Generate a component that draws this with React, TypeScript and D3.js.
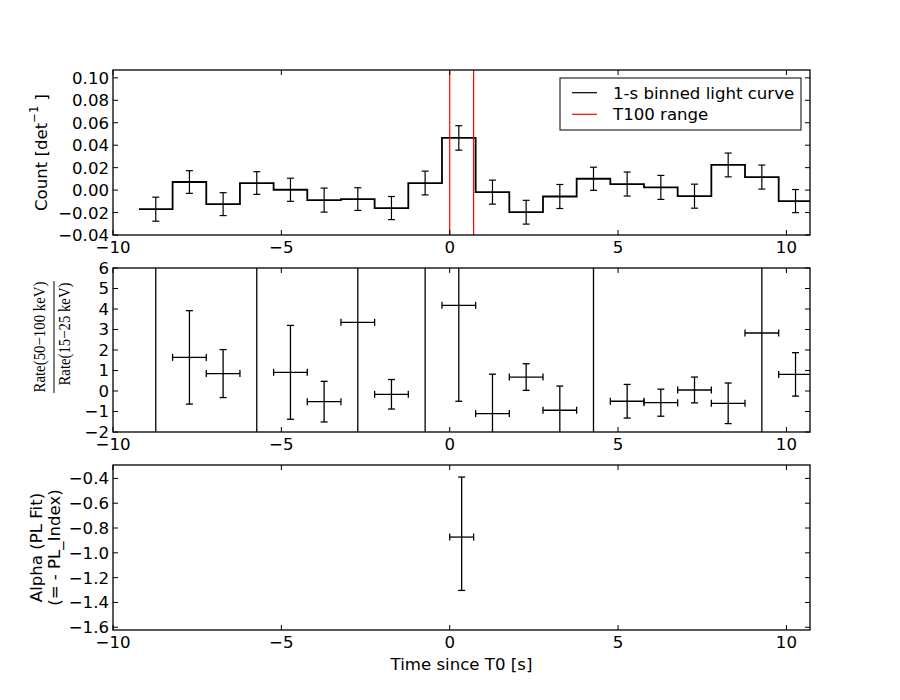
import React from "react";
import * as d3 from "d3";

// ---------- data ----------
const binCenters = [-8.73, -7.73, -6.73, -5.73, -4.73, -3.73, -2.73, -1.73, -0.73, 0.27, 1.27, 2.27, 3.27, 4.27, 5.27, 6.27, 7.27, 8.27, 9.27, 10.27];
const binHalfWidth = 0.5;
const countValues = [-0.017, 0.0072, -0.0125, 0.0063, 0.0003, -0.0089, -0.008, -0.016, 0.0063, 0.0465, -0.0018, -0.0197, -0.0057, 0.0101, 0.0054, 0.0024, -0.0054, 0.0224, 0.0116, -0.0098];
const countErrors = [0.0107, 0.0101, 0.0102, 0.0101, 0.0103, 0.0107, 0.0101, 0.0103, 0.0106, 0.0109, 0.0107, 0.0106, 0.0107, 0.0103, 0.0107, 0.0107, 0.0107, 0.0106, 0.0107, 0.0103];
const ratioValues = [-9, 1.64, 0.85, -9, 0.91, -0.52, 3.35, -0.16, -9, 4.18, -1.1, 0.68, -0.94, -9, -0.5, -0.57, 0.05, -0.6, 2.83, 0.81];
const ratioErrors = [18, 2.28, 1.17, 18, 2.29, 0.99, 7, 0.72, 18, 4.68, 1.92, 0.65, 1.18, 18, 0.82, 0.66, 0.63, 0.99, 6, 1.06];
const t100Range = [0.0, 0.71];
const alphaTime = [0.355];
const alphaValue = [-0.873];
const alphaErrUp = [0.484];
const alphaErrDown = [0.43];
const xTicks = [-10, -5, 0, 5, 10];
const countTicks = [-0.04, -0.02, 0.0, 0.02, 0.04, 0.06, 0.08, 0.1];
const ratioTicks = [-2, -1, 0, 1, 2, 3, 4, 5, 6];
const alphaTicks = [-1.6, -1.4, -1.2, -1.0, -0.8, -0.6, -0.4];
const legendLabels = ["1-s binned light curve", "T100 range"];

// ---------- layout ----------
const W = 900, H = 700;
const L = 113, R = 810;
const panels = [
  { top: 70, bottom: 235 },
  { top: 268, bottom: 432 },
  { top: 465, bottom: 630 },
];
const FONT = "DejaVu Sans, sans-serif";
const FS = 16.6;
const TICK = 5;
const CAP = 3.5;

const x = d3.scaleLinear().domain([-10, 10.7]).range([L, R]);
const yCount = d3.scaleLinear().domain([-0.04, 0.107]).range([panels[0].bottom, panels[0].top]);
const yRatio = d3.scaleLinear().domain([-2, 6]).range([panels[1].bottom, panels[1].top]);
const yAlpha = d3.scaleLinear().domain([-1.622, -0.292]).range([panels[2].bottom, panels[2].top]);

const fmtMinus = (s: string) => s.replace("-", "\u2212");

function Axes({ idx, y, yTicks, fmt, children }: any) {
  const { top, bottom } = panels[idx];
  return (
    <g>
      <defs>
        <clipPath id={`clip${idx}`}>
          <rect x={L} y={top} width={R - L} height={bottom - top} />
        </clipPath>
      </defs>
      <g clipPath={`url(#clip${idx})`}>{children}</g>
      {xTicks.map((t) => (
        <g key={"xt" + t}>
          <line x1={x(t)} x2={x(t)} y1={bottom} y2={bottom - TICK} stroke="black" />
          <line x1={x(t)} x2={x(t)} y1={top} y2={top + TICK} stroke="black" />
          <text x={x(t)} y={bottom + 18} textAnchor="middle" fontFamily={FONT} fontSize={FS}>
            {fmtMinus(String(t))}
          </text>
        </g>
      ))}
      {yTicks.map((t: number) => (
        <g key={"yt" + t}>
          <line x1={L} x2={L + TICK} y1={y(t)} y2={y(t)} stroke="black" />
          <line x1={R} x2={R - TICK} y1={y(t)} y2={y(t)} stroke="black" />
          <text x={L - 4} y={y(t)} dy="0.36em" textAnchor="end" fontFamily={FONT} fontSize={FS}>
            {fmtMinus(fmt(t))}
          </text>
        </g>
      ))}
      <rect x={L} y={top} width={R - L} height={bottom - top} fill="none" stroke="black" strokeWidth={1.3} />
    </g>
  );
}

export default function App() {
  // step line path
  const stepPts: [number, number][] = [];
  binCenters.forEach((c, i) => {
    stepPts.push([c - binHalfWidth, countValues[i]]);
    stepPts.push([c + binHalfWidth, countValues[i]]);
  });
  const stepLine = d3
    .line<[number, number]>()
    .x((d) => x(d[0]))
    .y((d) => yCount(d[1]))(stepPts);

  return (
    <svg width={W} height={H} style={{ display: "block", position: "absolute", left: 0, top: 0 }}>
      <rect width={W} height={H} fill="white" />

      {/* Panel 1 */}
      <Axes idx={0} y={yCount} yTicks={countTicks} fmt={(t: number) => t.toFixed(2)}>
        <path d={stepLine || ""} fill="none" stroke="black" strokeWidth={1.8} />
        {binCenters.map((c, i) => {
          const y1 = yCount(countValues[i] + countErrors[i]);
          const y2 = yCount(countValues[i] - countErrors[i]);
          return (
            <g key={i} stroke="black" strokeWidth={1.2}>
              <line x1={x(c)} x2={x(c)} y1={y1} y2={y2} />
              <line x1={x(c) - CAP} x2={x(c) + CAP} y1={y1} y2={y1} />
              <line x1={x(c) - CAP} x2={x(c) + CAP} y1={y2} y2={y2} />
            </g>
          );
        })}
        {t100Range.map((t, i) => (
          <line key={"r" + i} x1={x(t)} x2={x(t)} y1={panels[0].top} y2={panels[0].bottom} stroke="red" strokeWidth={1.2} />
        ))}
      </Axes>
      {/* legend */}
      <g>
        <rect x={560} y={78} width={241} height={52} fill="white" stroke="black" strokeWidth={1} />
        <line x1={572} x2={597} y1={92.7} y2={92.7} stroke="black" strokeWidth={1.2} />
        <line x1={572} x2={597} y1={114.3} y2={114.3} stroke="red" strokeWidth={1.2} />
        <text x={613} y={92.7} dy="0.36em" fontFamily={FONT} fontSize={FS}>{legendLabels[0]}</text>
        <text x={613} y={114.3} dy="0.36em" fontFamily={FONT} fontSize={FS}>{legendLabels[1]}</text>
      </g>

      {/* Panel 2 */}
      <Axes idx={1} y={yRatio} yTicks={ratioTicks} fmt={(t: number) => String(t)}>
        {binCenters.map((c, i) => {
          const yv = yRatio(ratioValues[i]);
          const y1 = yRatio(ratioValues[i] + ratioErrors[i]);
          const y2 = yRatio(ratioValues[i] - ratioErrors[i]);
          const xa = x(c - binHalfWidth), xb = x(c + binHalfWidth);
          return (
            <g key={i} stroke="black" strokeWidth={1.3}>
              <line x1={x(c)} x2={x(c)} y1={y1} y2={y2} />
              <line x1={x(c) - CAP} x2={x(c) + CAP} y1={y1} y2={y1} />
              <line x1={x(c) - CAP} x2={x(c) + CAP} y1={y2} y2={y2} />
              <line x1={xa} x2={xb} y1={yv} y2={yv} />
              <line x1={xa} x2={xa} y1={yv - CAP} y2={yv + CAP} />
              <line x1={xb} x2={xb} y1={yv - CAP} y2={yv + CAP} />
            </g>
          );
        })}
      </Axes>

      {/* Panel 3 */}
      <Axes idx={2} y={yAlpha} yTicks={alphaTicks} fmt={(t: number) => t.toFixed(1)}>
        {alphaTime.map((c, i) => {
          const yv = yAlpha(alphaValue[i]);
          const y1 = yAlpha(alphaValue[i] + alphaErrUp[i]);
          const y2 = yAlpha(alphaValue[i] - alphaErrDown[i]);
          const xa = x(t100Range[0]), xb = x(t100Range[1]);
          return (
            <g key={i} stroke="black" strokeWidth={1.3}>
              <line x1={x(c)} x2={x(c)} y1={y1} y2={y2} />
              <line x1={x(c) - CAP} x2={x(c) + CAP} y1={y1} y2={y1} />
              <line x1={x(c) - CAP} x2={x(c) + CAP} y1={y2} y2={y2} />
              <line x1={xa} x2={xb} y1={yv} y2={yv} />
              <line x1={xa} x2={xa} y1={yv - CAP} y2={yv + CAP} />
              <line x1={xb} x2={xb} y1={yv - CAP} y2={yv + CAP} />
            </g>
          );
        })}
      </Axes>

      {/* axis labels */}
      <text transform={`translate(41,152.5) rotate(-90)`} textAnchor="middle" dominantBaseline="central" fontFamily={FONT} fontSize={FS}>
        Count [det
        <tspan fontSize={FS * 0.7} dy={-7}>{"\u22121"}</tspan>
        <tspan dy={7}> ]</tspan>
      </text>
      <g transform={`translate(54,337) rotate(-90)`}>
        <text x={0} y={-9} textAnchor="middle" fontFamily="Liberation Serif, DejaVu Serif, serif" fontSize={17} textLength={111} lengthAdjust="spacingAndGlyphs">
          {"Rate(50\u2212100 keV)"}
        </text>
        <line x1={-56} x2={56} y1={0} y2={0} stroke="black" strokeWidth={1} />
        <text x={3} y={16} textAnchor="middle" fontFamily="Liberation Serif, DejaVu Serif, serif" fontSize={17} textLength={103} lengthAdjust="spacingAndGlyphs">
          {"Rate(15\u221225 keV)"}
        </text>
      </g>
      <text transform={`translate(36,547.5) rotate(-90)`} textAnchor="middle" dominantBaseline="central" fontFamily={FONT} fontSize={FS}>
        Alpha (PL Fit)
      </text>
      <text transform={`translate(54,547.5) rotate(-90)`} textAnchor="middle" dominantBaseline="central" fontFamily={FONT} fontSize={FS}>
        (= - PL_Index)
      </text>
      <text x={(L + R) / 2} y={670} textAnchor="middle" fontFamily={FONT} fontSize={FS}>
        Time since T0 [s]
      </text>
    </svg>
  );
}
